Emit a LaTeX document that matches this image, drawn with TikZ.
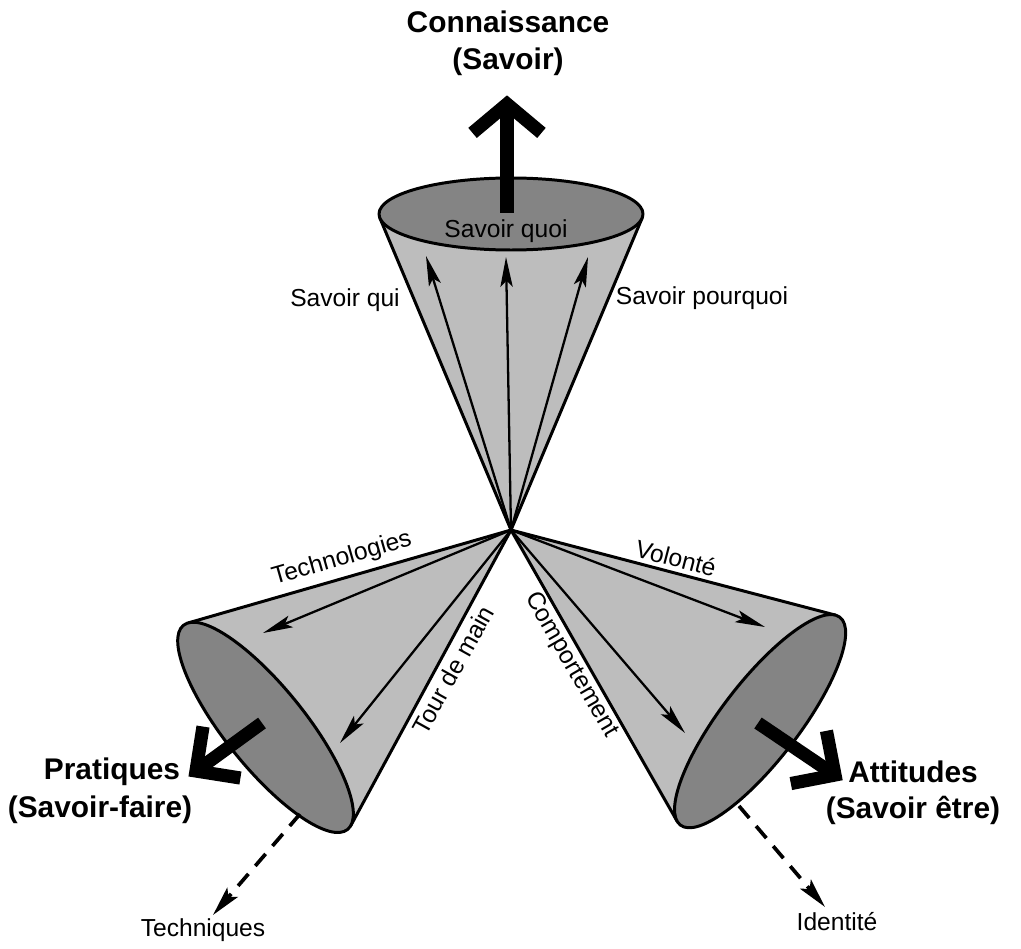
\documentclass[tikz,border=0pt]{standalone}
\usepackage{fontspec}
\setmainfont{Liberation Sans}
\usetikzlibrary{arrows.meta,calc}
\definecolor{conelight}{RGB}{189,189,189}
\definecolor{conedark}{RGB}{132,132,132}
\begin{document}
\begin{tikzpicture}[x=0.02cm,y=-0.02cm,
  outline/.style={draw=black,line width=1.7pt,line join=round},
  innerarrow/.style={line width=1.3pt,-{Stealth[length=17pt,width=7pt,inset=3.5pt]}},
  bigshaft/.style={line width=7.5pt},
  chevron/.style={line width=7.5pt,line join=miter,miter limit=10},
  dasharrow/.style={line width=2.1pt,dash pattern=on 9pt off 6pt,-{Stealth[length=17pt,width=8pt,inset=3.5pt]}},
  lbl/.style={font=\fontsize{14}{16}\selectfont,inner sep=0pt},
  biglbl/.style={font=\bfseries\fontsize{17}{20}\selectfont,inner sep=0pt}]
\useasboundingbox (0,0) rectangle (1021,949);
\coordinate (A) at (511,530);

% left cone
\begin{scope}[shift={(A)},rotate=218.8]
  \fill[conelight] (0,0) -- (309.9,129.9) -- (309.9,-129.9) -- cycle;
  \draw[outline] (309.9,129.9) -- (0,0) -- (309.9,-129.9);
  \filldraw[fill=conedark,outline] (315,0) ellipse [x radius=40,y radius=131];
\end{scope}
% right cone
\begin{scope}[shift={(A)},rotate=-37.5]
  \fill[conelight] (0,0) -- (309.2,130) -- (309.2,-130) -- cycle;
  \draw[outline] (309.2,130) -- (0,0) -- (309.2,-130);
  \filldraw[fill=conedark,outline] (314,0) ellipse [x radius=39,y radius=131];
\end{scope}
% top cone
\begin{scope}[shift={(A)},rotate=90]
  \fill[conelight] (0,0) -- (311.9,131.1) -- (311.9,-131.1) -- cycle;
  \draw[outline] (311.9,131.1) -- (0,0) -- (311.9,-131.1);
  \filldraw[fill=conedark,outline] (316,0) ellipse [x radius=36,y radius=132];
\end{scope}

% inner arrows
\coordinate (tqui) at (426,256);
\coordinate (tquoi) at (506,257);
\coordinate (tpq) at (588,257);
\coordinate (ttech) at (263,633);
\coordinate (ttdm) at (340,743);
\coordinate (tvol) at (765,627);
\coordinate (tcomp) at (685,733);
\foreach \t in {tqui,tquoi,tpq,ttech,ttdm,tvol,tcomp}
  \draw[innerarrow] (A) -- (\t);

% big arrows
\coordinate (bs1) at (507,213);
\coordinate (bt1) at (507,104);
\draw[bigshaft] (bs1) -- (bt1);
\draw[chevron] ($(bt1)!0.9cm!50:(bs1)$) -- (bt1) -- ($(bt1)!0.9cm!-50:(bs1)$);
\coordinate (bs2) at (262,723);
\coordinate (bt2) at (196,771);
\draw[bigshaft] (bs2) -- (bt2);
\draw[chevron] ($(bt2)!0.9cm!45:(bs2)$) -- (bt2) -- ($(bt2)!0.9cm!-45:(bs2)$);
\coordinate (bs3) at (758,723);
\coordinate (bt3) at (835,775);
\draw[bigshaft] (bs3) -- (bt3);
\draw[chevron] ($(bt3)!0.9cm!45:(bs3)$) -- (bt3) -- ($(bt3)!0.9cm!-45:(bs3)$);

% dashed arrows
\coordinate (ds1) at (300,814);
\coordinate (dt1) at (213,915);
\draw[dasharrow] (ds1) -- (dt1);
\coordinate (ds2) at (739,806);
\coordinate (dt2) at (825,907);
\draw[dasharrow] (ds2) -- (dt2);

% labels
\node[biglbl] (con1) at (508,22) {Connaissance};
\node[biglbl] (con2) at (508,62) {(Savoir)};
\node[biglbl] (pra1) at (112,772) {Pratiques};
\node[biglbl] (pra2) at (100,810) {(Savoir-faire)};
\node[biglbl] (att1) at (913,772) {Attitudes};
\node[biglbl] (att2) at (913,810) {(Savoir être)};

\node[lbl] (sqoi) at (345,300) {Savoir qui};
\node[lbl] (squoi) at (506,231) {Savoir quoi};
\node[lbl] (spq) at (702,298) {Savoir pourquoi};
\node[lbl,rotate=16] (tech) at (342,559) {Technologies};
\node[lbl,rotate=61] (tdm) at (453,670) {Tour de main};
\node[lbl,rotate=-14.6] (vol) at (676,558) {Volonté};
\node[lbl,rotate=-60] (comp) at (571,665) {Comportement};
\node[lbl] (techn) at (203,930) {Techniques};
\node[lbl] (ident) at (837,922) {Identité};
\end{tikzpicture}
\end{document}
